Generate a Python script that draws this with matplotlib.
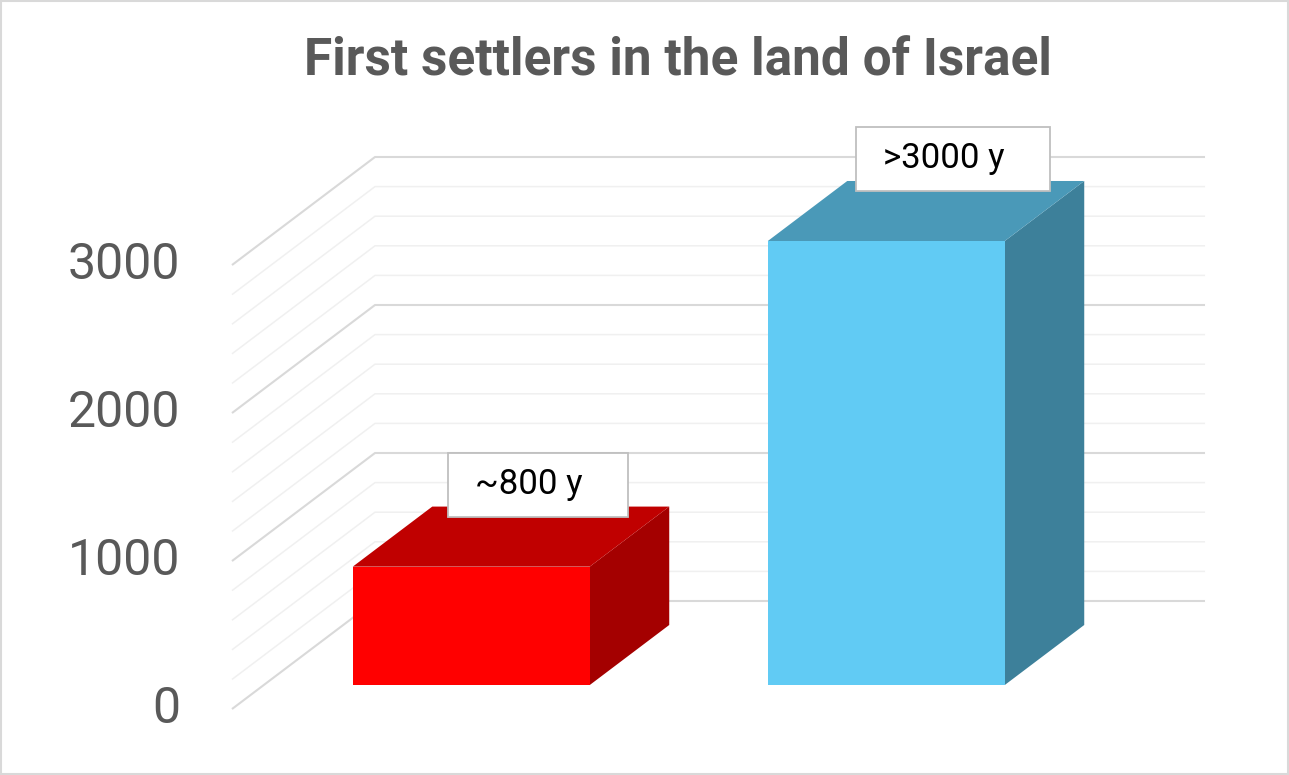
import matplotlib
matplotlib.use("Agg")
import matplotlib.pyplot as plt
from matplotlib.patches import Polygon, Rectangle
from matplotlib import transforms

# data
labels = ["~800 y", ">3000 y"]
values = [800, 3000]
front_colors = ["#ff0000", "#61cbf4"]
top_colors = ["#c00000", "#4a99b8"]
side_colors = ["#a40000", "#3d809a"]
y_max = 3000
major_step = 1000
minor_step = 200

# oblique "3D" projection: z=0 back wall, z=1 front edge of the floor
DX = -0.3446   # category units per unit depth
DV = -730.0    # value units per unit depth


def proj(c, v, z):
    return (c + DX * z, v + DV * z)


fig = plt.figure(figsize=(12.89, 7.75), dpi=100)
ax = fig.add_axes([0, 0, 1, 1])
ax.set_xlim(-0.9036, 2.2024)
ax.set_ylim(-1175.7, 4060.8)
ax.axis("off")

font = "Roboto"

# gridlines on the side wall and back wall
for v in range(0, y_max + 1, minor_step):
    major = v % major_step == 0
    pts = [proj(0, v, 1), proj(0, v, 0), proj(len(values), v, 0)]
    ax.plot([p[0] for p in pts], [p[1] for p in pts],
            color="#d9d9d9" if major else "#f0f0f0",
            lw=1.5 if major else 1.1, zorder=1 if major else 0.5,
            solid_capstyle="butt")
    if major:
        ax.annotate(str(v), xy=proj(0, v, 1), xytext=(-37, 0),
                    textcoords="offset points", ha="right", va="center",
                    fontsize=36, color="#595959", family=font)

# bars
half_w = 0.2855
zf, zb = 0.778, 0.222
renderer = fig.canvas.get_renderer()
for i, (lab, v) in enumerate(zip(labels, values)):
    c = i + 0.5
    cl, cr = c - half_w, c + half_w
    front = [proj(cl, 0, zf), proj(cr, 0, zf), proj(cr, v, zf), proj(cl, v, zf)]
    top = [proj(cl, v, zf), proj(cr, v, zf), proj(cr, v, zb), proj(cl, v, zb)]
    side = [proj(cr, 0, zf), proj(cr, 0, zb), proj(cr, v, zb), proj(cr, v, zf)]
    ax.add_patch(Polygon(side, closed=True, fc=side_colors[i], ec="none", zorder=3))
    ax.add_patch(Polygon(top, closed=True, fc=top_colors[i], ec="none", zorder=3))
    ax.add_patch(Polygon(front, closed=True, fc=front_colors[i], ec="none", zorder=3))

    # data label box above the back of the bar
    ax_, ay_ = proj(c, v, zb)
    tr = fig.dpi_scale_trans + transforms.ScaledTranslation(ax_, ay_, ax.transData)
    t = ax.text(-0.22, 0.22, lab, transform=tr, ha="center", va="center",
                fontsize=25, color="black", family=font, zorder=6)
    bb = t.get_window_extent(renderer)
    w = (bb.width + 72) / fig.dpi
    h = 0.64
    ax.add_patch(Rectangle((-0.13 - w / 2, 0.22 - h / 2), w, h, transform=tr,
                           fc="white", ec="#bfbfbf", lw=1.3, zorder=5))

fig.text(678 / 1289, 1 - 76 / 775, "First settlers in the land of Israel",
         ha="center", va="baseline", fontsize=37, fontweight="bold",
         color="#595959", family=font)

fig.patches.append(Rectangle((0.001, 0.0015), 0.998, 0.997, transform=fig.transFigure,
                             fill=False, ec="#d9d9d9", lw=1.5))

fig.savefig("out.png", dpi=100)
